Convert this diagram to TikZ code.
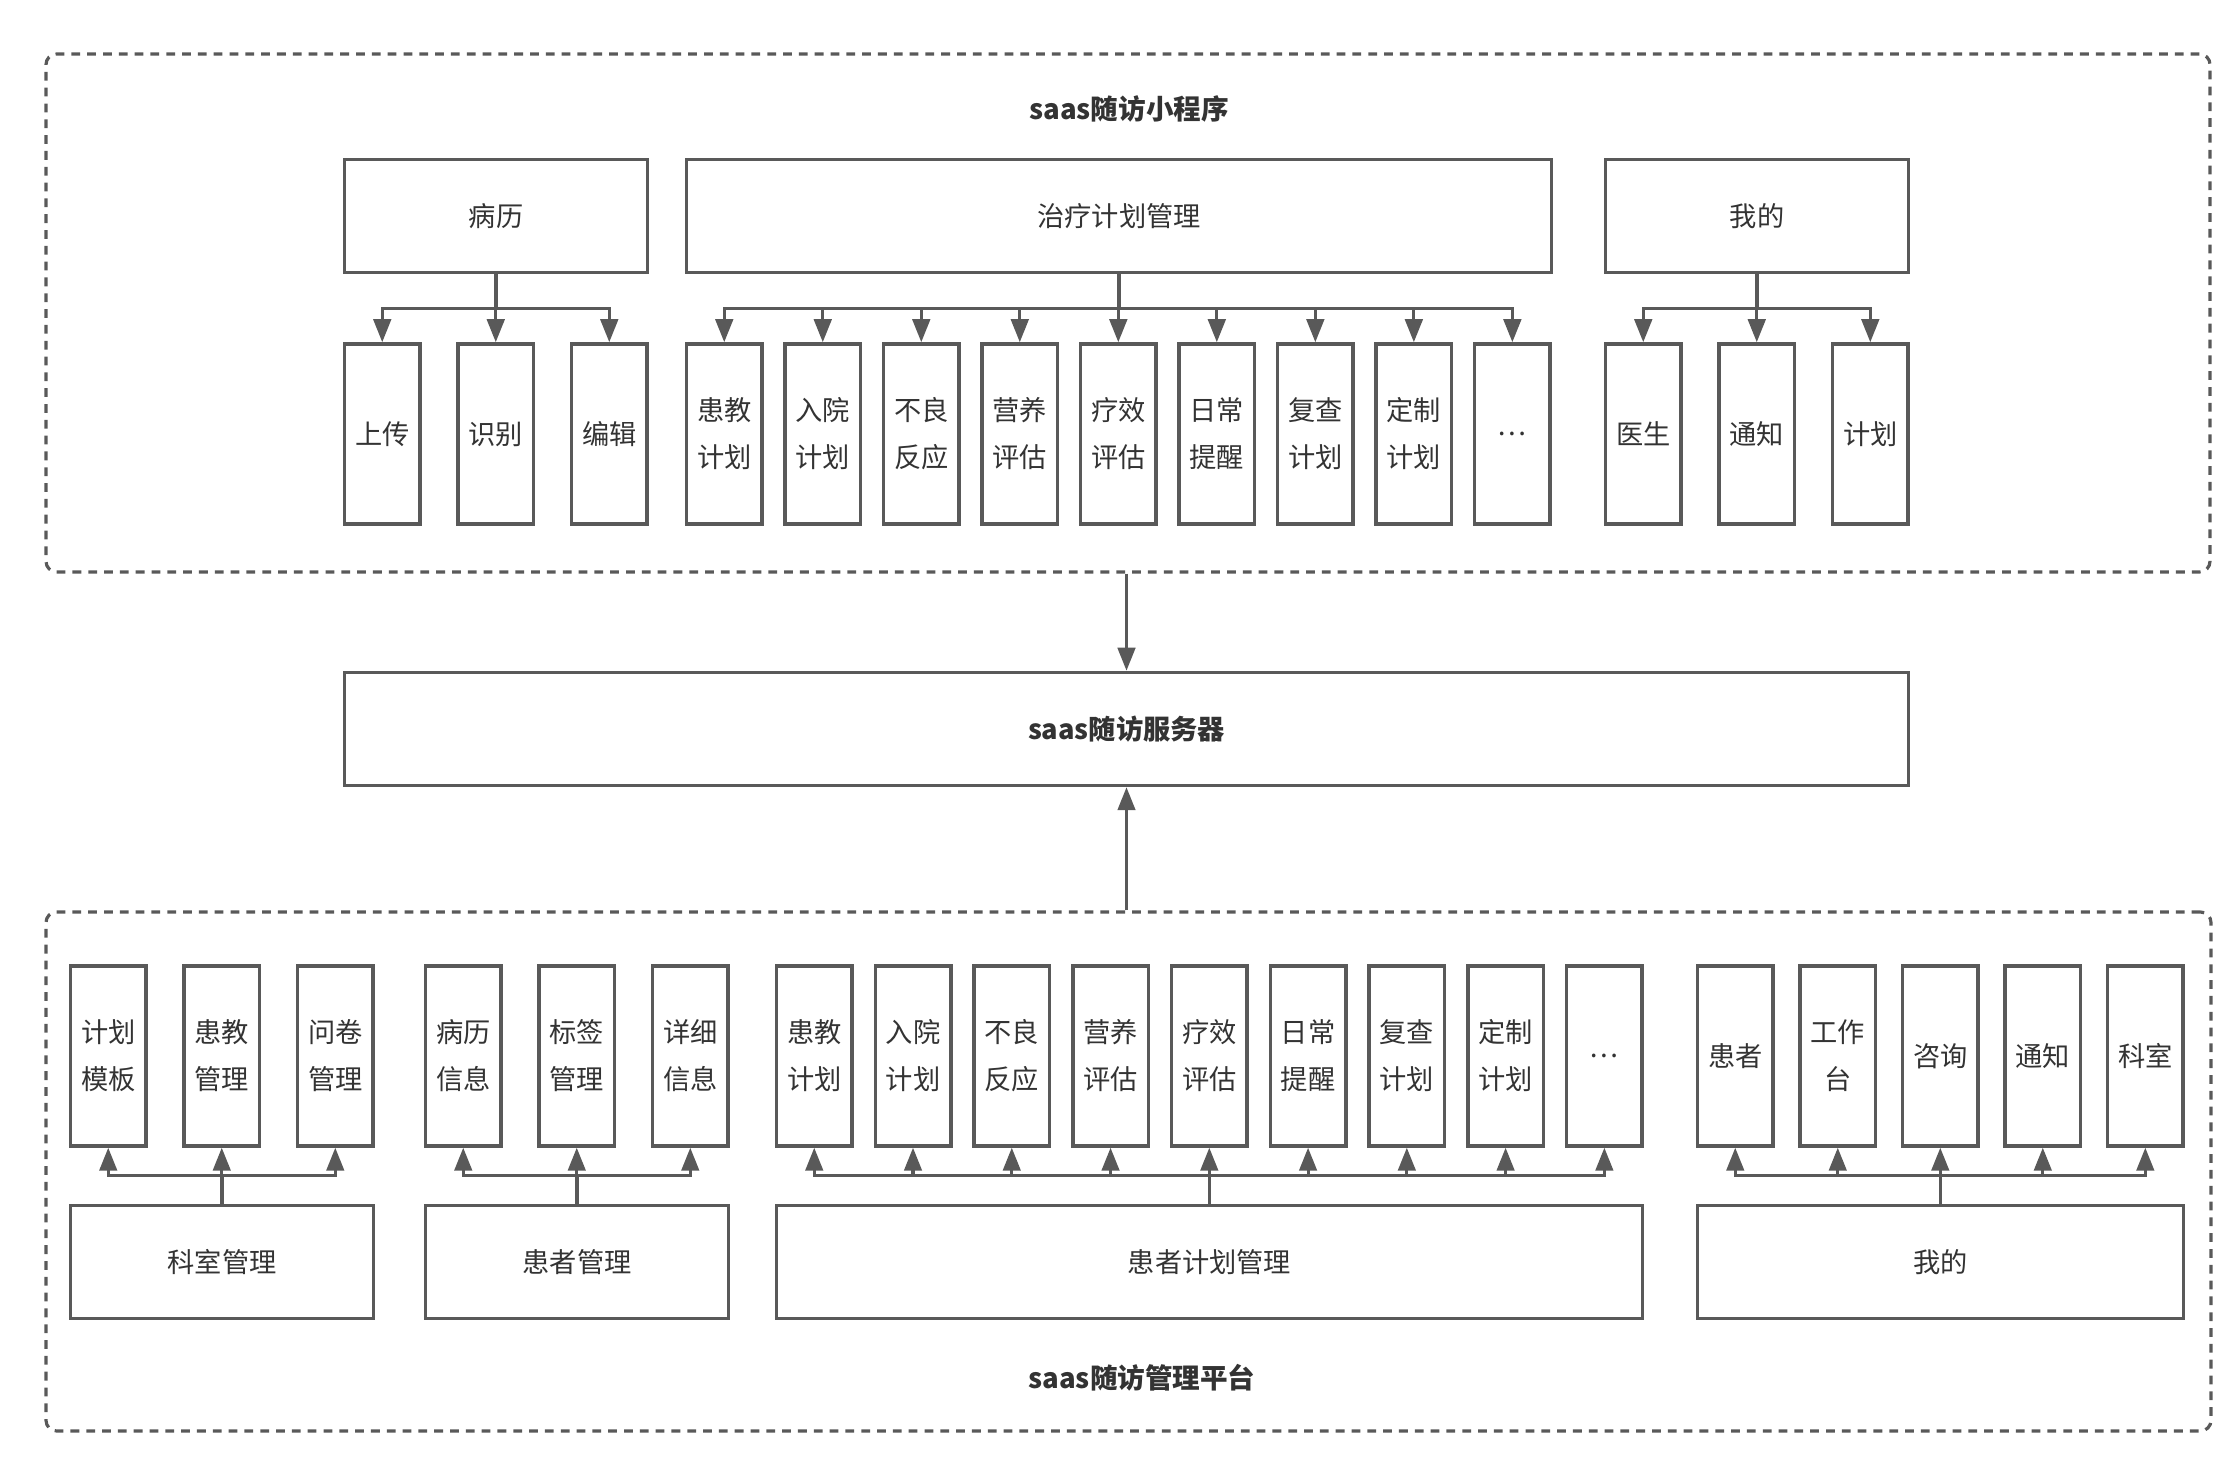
\documentclass[tikz,border=0pt]{standalone}
\usepackage{fontspec}
\setmainfont{Noto Sans CJK SC}
\usepackage{tikz}
\usetikzlibrary{
  arrows.meta,
  positioning,
  calc
}
\usepackage{xcolor}
\definecolor{cline}{RGB}{89,89,89}
\definecolor{ctext}{RGB}{51,51,51}
\tikzset{
  zone/.style={
    rectangle, rounded corners=6pt,
    draw=cline, line width=1.8pt,
    dash pattern=on 5pt off 4pt
  },
  pbox/.style={
    rectangle, draw=cline, line width=2pt,
    minimum width=6.06cm, minimum height=2.26cm,
    font=\fontsize{15.5}{26.7}\selectfont, text=ctext, align=center
  },
  leafbox/.style={
    pbox, minimum width=1.51cm, minimum height=3.60cm, inner sep=1pt
  },
  head/.style={
    font=\fontsize{15.7}{26.7}\selectfont\bfseries, text=ctext
  },
  link/.style={draw=cline, line width=1.8pt},
  arr/.style={link, -{Triangle[length=0.46cm, width=0.35cm]}}
}

\begin{document}
\begin{tikzpicture}
    \useasboundingbox (0,0) rectangle (44.76,29.6);

    %% ---- saas随访小程序 ------------------------------------------
    \node[zone, minimum width=43.28cm, minimum height=10.36cm]
      (app) at (22.56,23.34) {};
    \node[head] (apph) at (22.58,27.42) {saas随访小程序};

    \node[pbox] (bl) at (9.92,25.28) {病历};
    \node[pbox, minimum width=17.30cm] (zl) at (22.38,25.28) {治疗计划管理};
    \node[pbox] (wd) at (35.14,25.28) {我的};

    \node[leafbox, below=1.36cm of bl.south west, anchor=north west] (bl1) {上传};
    \node[leafbox, right=0.69cm of bl1] (bl2) {识别};
    \node[leafbox, right=0.69cm of bl2] (bl3) {编辑};

    \node[leafbox, below=1.36cm of zl.south west, anchor=north west] (zl1) {患教\\计划};
    \node[leafbox, right=0.39cm of zl1] (zl2) {入院\\计划};
    \node[leafbox, right=0.39cm of zl2] (zl3) {不良\\反应};
    \node[leafbox, right=0.39cm of zl3] (zl4) {营养\\评估};
    \node[leafbox, right=0.39cm of zl4] (zl5) {疗效\\评估};
    \node[leafbox, right=0.39cm of zl5] (zl6) {日常\\提醒};
    \node[leafbox, right=0.39cm of zl6] (zl7) {复查\\计划};
    \node[leafbox, right=0.39cm of zl7] (zl8) {定制\\计划};
    \node[leafbox, right=0.39cm of zl8] (zl9) {…};

    \node[leafbox, below=1.36cm of wd.south west, anchor=north west] (wd1) {医生};
    \node[leafbox, right=0.69cm of wd1] (wd2) {通知};
    \node[leafbox, right=0.69cm of wd2] (wd3) {计划};

    \coordinate (bl-j) at ($(bl.south)+(0,-0.68)$);
    \coordinate (zl-j) at ($(zl.south)+(0,-0.68)$);
    \coordinate (wd-j) at ($(wd.south)+(0,-0.68)$);

    \draw[link] (bl.south)--(bl-j);
    \draw[arr] (bl-j) -| (bl1.north); \draw[arr] (bl-j) -| (bl2.north);
    \draw[arr] (bl-j) -| (bl3.north);

    \draw[link] (zl.south)--(zl-j);
    \draw[arr] (zl-j) -| (zl1.north); \draw[arr] (zl-j) -| (zl2.north);
    \draw[arr] (zl-j) -| (zl3.north); \draw[arr] (zl-j) -| (zl4.north);
    \draw[arr] (zl-j) -| (zl5.north); \draw[arr] (zl-j) -| (zl6.north);
    \draw[arr] (zl-j) -| (zl7.north); \draw[arr] (zl-j) -| (zl8.north);
    \draw[arr] (zl-j) -| (zl9.north);

    \draw[link] (wd.south)--(wd-j);
    \draw[arr] (wd-j) -| (wd1.north); \draw[arr] (wd-j) -| (wd2.north);
    \draw[arr] (wd-j) -| (wd3.north);

    %% ---- saas随访服务器 ------------------------------------------
    \node[pbox, minimum width=31.28cm] (srv) at (22.53,15.02)
      {\bfseries saas随访服务器};

    %% ---- saas随访管理平台 ----------------------------------------
    \node[zone, minimum width=43.30cm, minimum height=10.38cm]
      (pf) at (22.57,6.17) {};
    \node[head] (pfh) at (22.84,2.04) {saas随访管理平台};

    \node[pbox] (ks) at (4.44,4.36) {科室管理};
    \node[pbox] (hz) at (11.54,4.36) {患者管理};
    \node[pbox, minimum width=17.32cm] (jh) at (24.19,4.36) {患者计划管理};
    \node[pbox, minimum width=9.72cm] (wo) at (38.81,4.36) {我的};

    \node[leafbox, above=1.12cm of ks.north west, anchor=south west] (ks1) {计划\\模板};
    \node[leafbox, right=0.69cm of ks1] (ks2) {患教\\管理};
    \node[leafbox, right=0.69cm of ks2] (ks3) {问卷\\管理};

    \node[leafbox, above=1.12cm of hz.north west, anchor=south west] (hz1) {病历\\信息};
    \node[leafbox, right=0.69cm of hz1] (hz2) {标签\\管理};
    \node[leafbox, right=0.69cm of hz2] (hz3) {详细\\信息};

    \node[leafbox, above=1.12cm of jh.north west, anchor=south west] (jh1) {患教\\计划};
    \node[leafbox, right=0.395cm of jh1] (jh2) {入院\\计划};
    \node[leafbox, right=0.395cm of jh2] (jh3) {不良\\反应};
    \node[leafbox, right=0.395cm of jh3] (jh4) {营养\\评估};
    \node[leafbox, right=0.395cm of jh4] (jh5) {疗效\\评估};
    \node[leafbox, right=0.395cm of jh5] (jh6) {日常\\提醒};
    \node[leafbox, right=0.395cm of jh6] (jh7) {复查\\计划};
    \node[leafbox, right=0.395cm of jh7] (jh8) {定制\\计划};
    \node[leafbox, right=0.395cm of jh8] (jh9) {…};

    \node[leafbox, above=1.12cm of wo.north west, anchor=south west] (wo1) {患者};
    \node[leafbox, right=0.47cm of wo1] (wo2) {工作\\台};
    \node[leafbox, right=0.47cm of wo2] (wo3) {咨询};
    \node[leafbox, right=0.47cm of wo3] (wo4) {通知};
    \node[leafbox, right=0.47cm of wo4] (wo5) {科室};

    \coordinate (ks-j) at ($(ks.north)+(0,0.56)$);
    \coordinate (hz-j) at ($(hz.north)+(0,0.56)$);
    \coordinate (jh-j) at ($(jh.north)+(0,0.56)$);
    \coordinate (wo-j) at ($(wo.north)+(0,0.56)$);

    \draw[link] (ks.north)--(ks-j);
    \draw[arr] (ks-j) -| (ks1.south); \draw[arr] (ks-j) -| (ks2.south);
    \draw[arr] (ks-j) -| (ks3.south);

    \draw[link] (hz.north)--(hz-j);
    \draw[arr] (hz-j) -| (hz1.south); \draw[arr] (hz-j) -| (hz2.south);
    \draw[arr] (hz-j) -| (hz3.south);

    \draw[link] (jh.north)--(jh-j);
    \draw[arr] (jh-j) -| (jh1.south); \draw[arr] (jh-j) -| (jh2.south);
    \draw[arr] (jh-j) -| (jh3.south); \draw[arr] (jh-j) -| (jh4.south);
    \draw[arr] (jh-j) -| (jh5.south); \draw[arr] (jh-j) -| (jh6.south);
    \draw[arr] (jh-j) -| (jh7.south); \draw[arr] (jh-j) -| (jh8.south);
    \draw[arr] (jh-j) -| (jh9.south);

    \draw[link] (wo.north)--(wo-j);
    \draw[arr] (wo-j) -| (wo1.south); \draw[arr] (wo-j) -| (wo2.south);
    \draw[arr] (wo-j) -| (wo3.south); \draw[arr] (wo-j) -| (wo4.south);
    \draw[arr] (wo-j) -| (wo5.south);

    %% ---- links to the server -------------------------------------
    \draw[arr] (app.south -| srv.north) -- (srv.north);
    \draw[arr] (pf.north -| srv.south) -- (srv.south);

\end{tikzpicture}
\end{document}
